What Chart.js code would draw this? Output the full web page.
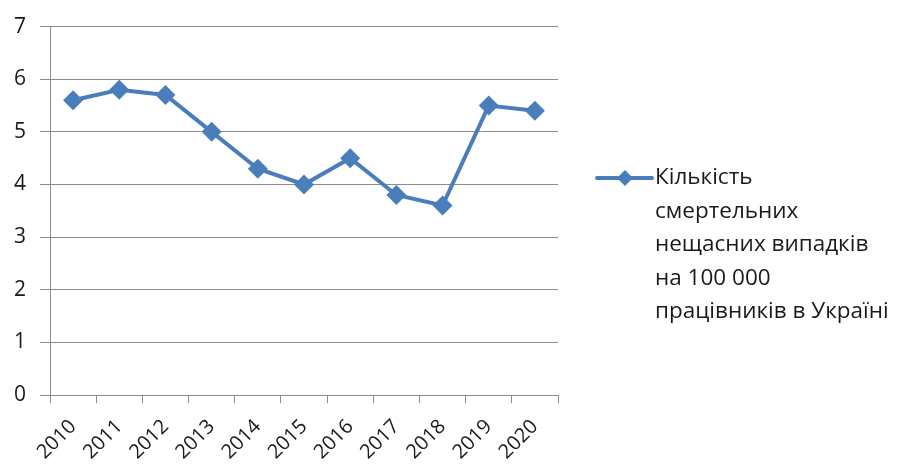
<!DOCTYPE html>
<html>
<head>
<meta charset="utf-8">
<script src="https://cdn.jsdelivr.net/npm/chart.js@4"></script>
<style>
  html, body { margin: 0; padding: 0; background: #fff; }
  #wrap { width: 897px; height: 465px; }
</style>
</head>
<body>
<div id="wrap"><canvas id="chart"></canvas></div>
<script>
// Data
const years = ['2010', '2011', '2012', '2013', '2014', '2015', '2016', '2017', '2018', '2019', '2020'];
const deaths = [5.6, 5.8, 5.7, 5.0, 4.3, 4.0, 4.5, 3.8, 3.6, 5.5, 5.4];
const seriesLabel = ['Кількість', 'смертельних', 'нещасних випадків', 'на 100 000', 'працівників в Україні'];
const yTicks = [0, 1, 2, 3, 4, 5, 6, 7];

const blue = '#4a7ebb';
const gridGray = '#8c8c8c';
const fontFamily = '"Open Sans", "Noto Sans", sans-serif';

// legend drawn by hand because the label wraps over several lines
const sideLegend = {
    id: 'sideLegend',
    afterDraw(chart) {
        const ctx = chart.ctx;
        const ds = chart.data.datasets[0];
        const x0 = 597, y0 = 178;
        ctx.save();
        ctx.strokeStyle = ds.borderColor;
        ctx.lineWidth = 4;
        ctx.lineCap = 'round';
        ctx.beginPath();
        ctx.moveTo(x0, y0);
        ctx.lineTo(x0 + 55, y0);
        ctx.stroke();
        // diamond marker
        ctx.fillStyle = ds.backgroundColor;
        const cx = x0 + 28, r = 8;
        ctx.beginPath();
        ctx.moveTo(cx, y0 - r);
        ctx.lineTo(cx + r, y0);
        ctx.lineTo(cx, y0 + r);
        ctx.lineTo(cx - r, y0);
        ctx.closePath();
        ctx.fill();
        ctx.fillStyle = '#1a1a1a';
        ctx.font = '22.5px ' + fontFamily;
        ctx.textBaseline = 'middle';
        seriesLabel.forEach((line, i) => {
            ctx.fillText(line, 655, y0 + i * 33.5);
        });
        ctx.restore();
    }
};

new Chart(document.getElementById('chart'), {
    type: 'line',
    data: {
        labels: years,
        datasets: [{
            label: seriesLabel.join(' '),
            data: deaths,
            borderColor: blue,
            backgroundColor: blue,
            borderWidth: 4,
            pointStyle: 'rectRot',
            pointRadius: 10,
            pointHoverRadius: 10,
            pointBorderWidth: 0,
            tension: 0
        }]
    },
    options: {
        responsive: true,
        maintainAspectRatio: false,
        animation: false,
        layout: {
            padding: { top: 24, right: 339, left: 0, bottom: 0 }
        },
        plugins: {
            legend: { display: false },
            tooltip: { enabled: false }
        },
        scales: {
            x: {
                offset: true,
                grid: {
                    offset: true,
                    drawOnChartArea: false,
                    drawTicks: true,
                    tickLength: 8,
                    color: gridGray
                },
                border: { color: gridGray, width: 1 },
                ticks: {
                    color: '#1a1a1a',
                    font: { family: fontFamily, size: 20 },
                    maxRotation: 45,
                    minRotation: 45,
                    padding: 12
                },
                afterFit(scale) {
                    scale.height = 70;
                }
            },
            y: {
                min: 0,
                max: 7,
                afterBuildTicks(scale) {
                    scale.ticks = yTicks.map(v => ({ value: v }));
                },
                grid: {
                    color: gridGray,
                    tickLength: 10,
                    lineWidth: 1
                },
                border: { color: gridGray, width: 1 },
                ticks: {
                    color: '#1a1a1a',
                    font: { family: fontFamily, size: 21 },
                    padding: 14
                },
                afterFit(scale) {
                    scale.width = 50;
                }
            }
        }
    },
    plugins: [sideLegend]
});
</script>
</body>
</html>
